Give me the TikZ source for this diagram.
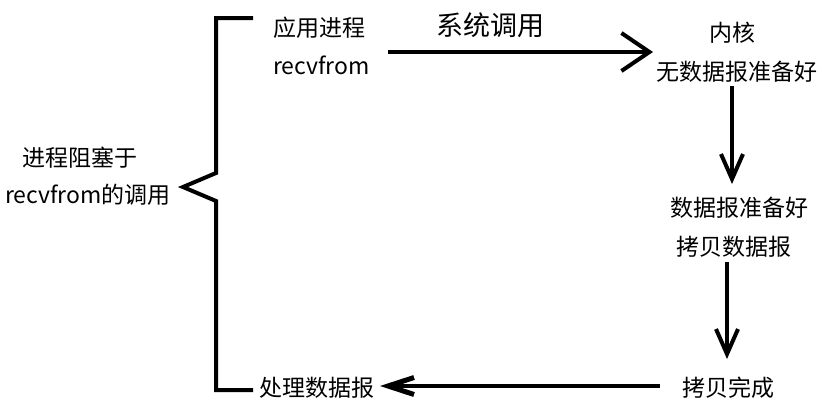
\documentclass[tikz,border=0pt]{standalone}
\usepackage{fontspec}
\setmainfont{Noto Sans CJK SC}
\usetikzlibrary{arrows.meta}
\begin{document}
\begin{tikzpicture}[x=1pt,y=-1pt,
  txt/.style={inner sep=0pt,font=\fontsize{23}{28}\selectfont},
  big/.style={inner sep=0pt,font=\fontsize{27}{32}\selectfont},
  line/.style={line width=4pt},
  arrH/.style={line width=4pt,-{Straight Barb[length=28pt,width=38pt,line width=4pt]}},
  arrV/.style={line width=4pt,-{Straight Barb[length=25pt,width=22pt,line width=4pt]}},
  arrL/.style={line width=4pt,-{Straight Barb[length=26pt,width=17pt,line width=5pt]}}]
\useasboundingbox (0,0) rectangle (822,405);
% texts
\node[txt,anchor=west] (app) at (273,28) {应用进程};
\node[txt,anchor=west] (recv) at (273,65) {recvfrom};
\node[big] (sys) at (490,25) {系统调用};
\node[txt] (kern) at (732,33) {内核};
\node[txt] (nodata) at (737,72) {无数据报准备好};
\node[txt] (ready) at (739,208) {数据报准备好};
\node[txt] (copy) at (734,247) {拷贝数据报};
\node[txt] (done) at (728,388) {拷贝完成};
\node[txt] (proc) at (317,388) {处理数据报};
\node[txt] (blk1) at (80,158) {进程阻塞于};
\node[txt] (blk2) at (88,195) {recvfrom的调用};
% brace
\coordinate (bt) at (253,18);
\coordinate (bb) at (253,390);
\coordinate (btip) at (183,187);
\draw[line,line join=miter] (bt) -- (216,18) -- (216,173) -- (btip) -- (216,201) -- (216,390) -- (bb);
% arrows
\coordinate (a1s) at (388,52);
\coordinate (a1e) at (653,52);
\draw[arrH] (a1s) -- (a1e);
\coordinate (a2s) at (732,86);
\coordinate (a2e) at (732,184);
\draw[arrV] (a2s) -- (a2e);
\coordinate (a3s) at (727,262);
\coordinate (a3e) at (727,359);
\draw[arrV] (a3s) -- (a3e);
\coordinate (a4s) at (660,386);
\coordinate (a4e) at (380,386);
\draw[arrL] (a4s) -- (a4e);
\end{tikzpicture}
\end{document}
